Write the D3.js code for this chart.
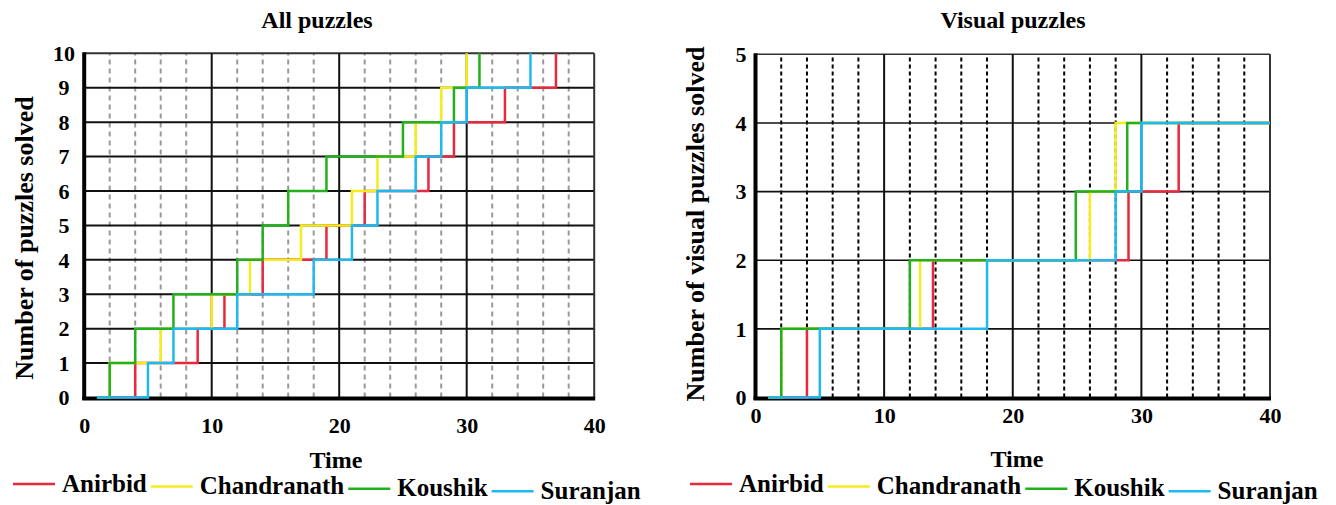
<!DOCTYPE html>
<html>
<head>
<meta charset="utf-8">
<script src="https://cdn.jsdelivr.net/npm/d3@7"></script>
<style>
  body { margin: 0; background: #fff; }
  text { font-family: "Liberation Serif", "Times New Roman", serif; font-weight: bold; fill: #000; }
</style>
</head>
<body>
<svg id="chart" width="1336" height="505"></svg>
<script>
// series names and colours (legend order = drawing order)
var names = ["Anirbid", "Chandranath", "Koushik", "Suranjan"];
var colors = ["#e8283c", "#f5ec1c", "#22b01c", "#1eb9f0"];

var timeTicks = [0, 10, 20, 30, 40];

// All puzzles: time at which each next puzzle was solved (1..10)
var allTicks = [0, 1, 2, 3, 4, 5, 6, 7, 8, 9, 10];
var allStart = 1;
var allAnirbid     = [4, 8.9, 11, 14, 19, 22, 27, 29, 33, 37];
var allChandranath = [2, 6, 10, 13, 17, 21, 23, 26, 28, 30];
var allKoushik     = [2, 4, 7, 12, 14, 16, 19, 25, 29, 31];
var allSuranjan    = [5, 7, 12, 18, 21, 23, 26, 28, 30, 35];

// Visual puzzles: time at which each next visual puzzle was solved (1..4)
var visTicks = [0, 1, 2, 3, 4, 5];
var visStart = 1;
var visEnd = 40;
var visAnirbid     = [4, 13.8, 29, 32.9];
var visChandranath = [2, 12.8, 26, 28];
var visKoushik     = [2, 12, 24.9, 28.9];
var visSuranjan    = [5, 18, 28, 30];

var svg = d3.select("#chart");

// turn step times into [time, count] points
function steps(times, start, end) {
  var pts = [[start, 0]];
  times.forEach(function(t, i) { pts.push([t, i + 1]); });
  if (end != null) pts.push([end, times.length]);
  return pts;
}

function drawPanel(o) {
  var x = d3.scaleLinear().domain([0, 40]).range([o.x0, o.x1]);
  var y = d3.scaleLinear().domain([0, o.ymax]).range([o.y0, o.y1]);
  var g = svg.append("g");

  // minor dashed verticals every 2
  var minor = d3.range(2, 40, 2).filter(function(d) { return d % 10 != 0; });
  g.selectAll(".minor").data(minor).enter().append("line")
      .attr("x1", x).attr("x2", x)
      .attr("y1", y(0)).attr("y2", y(o.ymax))
      .attr("stroke", o.dashColor).attr("stroke-width", 2)
      .attr("stroke-dasharray", o.dash);

  // horizontal lines at each integer
  g.selectAll(".hline").data(o.yticks.slice(1)).enter().append("line")
      .attr("x1", x(0)).attr("x2", x(40))
      .attr("y1", y).attr("y2", y)
      .attr("stroke", function(d) { return d == o.ymax ? "#333" : "#111"; })
      .attr("stroke-width", o.hWidth);

  // major verticals
  g.selectAll(".major").data([10, 20, 30, 40]).enter().append("line")
      .attr("x1", x).attr("x2", x)
      .attr("y1", y(0)).attr("y2", y(o.ymax))
      .attr("stroke", function(d) { return d == 40 ? "#333" : "#111"; })
      .attr("stroke-width", 2);

  // thick axes
  g.append("line").attr("x1", x(0)).attr("x2", x(0))
      .attr("y1", y(0) + 2).attr("y2", y(o.ymax) - 1)
      .attr("stroke", "#000").attr("stroke-width", 4);
  g.append("line").attr("x1", x(0) - 2).attr("x2", x(40) + 1)
      .attr("y1", y(0) + 1).attr("y2", y(0) + 1)
      .attr("stroke", "#000").attr("stroke-width", 4);

  // series (on top of the axes, so the zero run shows)
  var line = d3.line()
      .x(function(d) { return x(d[0]); })
      .y(function(d) { return y(d[1]); })
      .curve(d3.curveStepAfter);

  o.series.forEach(function(s, i) {
    g.append("path")
        .attr("d", line(steps(s, o.start, o.end)))
        .attr("fill", "none")
        .attr("stroke", colors[i])
        .attr("stroke-width", 2.5);
  });

  // tick labels
  var xa = g.append("g")
      .attr("transform", "translate(0," + o.xLabelY + ")")
      .call(d3.axisBottom(x).tickValues(timeTicks).tickSize(0).tickPadding(0));
  xa.select(".domain").remove();
  xa.selectAll("text").attr("dy", 0).style("font-size", "22px")
      .style("font-family", "'Liberation Serif', serif").style("font-weight", "bold");

  var ya = g.append("g")
      .attr("transform", "translate(" + o.yLabelX + ",0)")
      .call(d3.axisLeft(y).tickValues(o.yticks).tickFormat(d3.format("d")).tickSize(0).tickPadding(0));
  ya.select(".domain").remove();
  ya.selectAll("text").attr("text-anchor", "middle").attr("dy", "0.33em").style("font-size", "22px")
      .style("font-family", "'Liberation Serif', serif").style("font-weight", "bold");

  // titles
  g.append("text").attr("x", o.titleX).attr("y", 28)
      .attr("text-anchor", "middle").style("font-size", "24px")
      .text(o.title);
  g.append("text").attr("x", o.timeX).attr("y", o.timeY)
      .attr("text-anchor", "middle").style("font-size", "24px")
      .text("Time");
  g.append("text")
      .attr("transform", "translate(" + o.ylabX + "," + o.ylabY + ") rotate(-90)")
      .attr("text-anchor", "middle").style("font-size", "26px")
      .text(o.ylabel);

  // legend
  var lx = o.legendX;
  names.forEach(function(n, i) {
    var base = 491.5 + i * 2.4;
    g.append("line").attr("x1", lx).attr("x2", lx + 42)
        .attr("y1", base - 7.5).attr("y2", base - 7.5)
        .attr("stroke", colors[i]).attr("stroke-width", 2.5);
    var t = g.append("text").attr("x", lx + 49).attr("y", base)
        .style("font-size", "25px").text(n);
    lx += 49 + t.node().getComputedTextLength() + 4;
  });
}

drawPanel({
  x0: 84.2, x1: 594.2, y0: 397.5, y1: 53.3, ymax: 10,
  yticks: allTicks, start: allStart, end: null,
  series: [allAnirbid, allChandranath, allKoushik, allSuranjan],
  dashColor: "#999", dash: "5,4", hWidth: 2,
  xLabelY: 433, yLabelX: 64,
  title: "All puzzles", titleX: 317,
  timeX: 336, timeY: 468,
  ylabel: "Number of puzzles solved", ylabX: 33, ylabY: 238,
  legendX: 13
});

drawPanel({
  x0: 755.5, x1: 1270, y0: 397.5, y1: 54.3, ymax: 5,
  yticks: visTicks, start: visStart, end: visEnd,
  series: [visAnirbid, visChandranath, visKoushik, visSuranjan],
  dashColor: "#000", dash: "4,3", hWidth: 1.6,
  xLabelY: 423, yLabelX: 741,
  title: "Visual puzzles", titleX: 1013,
  timeX: 1017, timeY: 467,
  ylabel: "Number of visual puzzles solved", ylabX: 704, ylabY: 224,
  legendX: 690
});
</script>
</body>
</html>
